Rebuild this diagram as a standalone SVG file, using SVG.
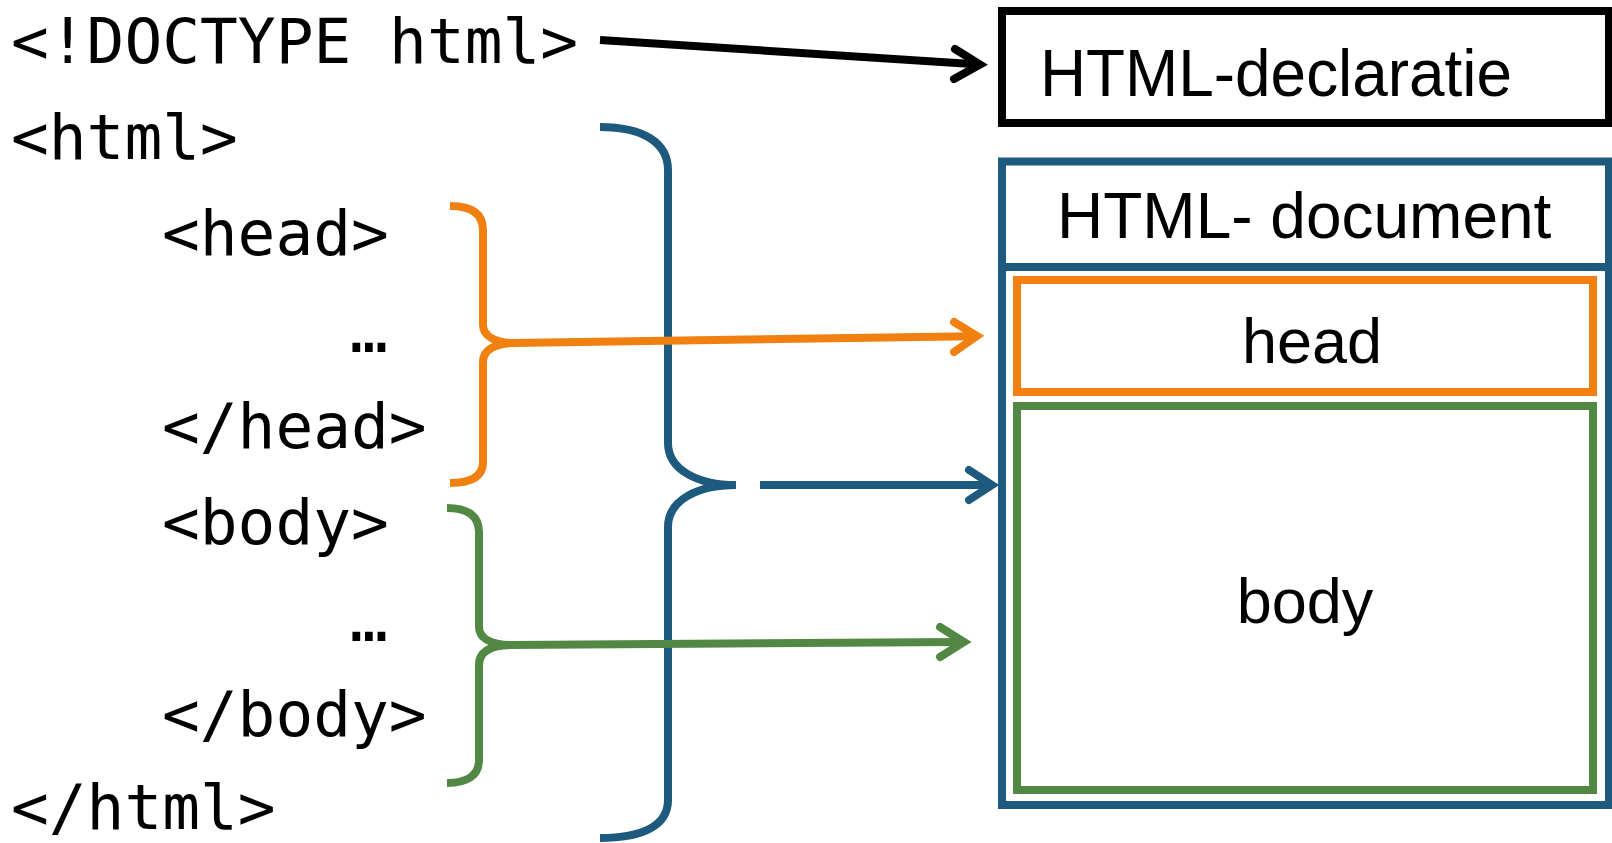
<svg xmlns="http://www.w3.org/2000/svg" width="1612" height="843" viewBox="0 0 1612 843">
<style>
.code{font-family:"DejaVu Sans Mono","Liberation Mono",monospace;font-size:62.8px;fill:#000}
.lbl{font-family:"Liberation Sans",Arial,sans-serif;font-size:63px;fill:#000}
.box{fill:#fff;stroke-width:8}
.ln{fill:none;stroke-width:8;stroke-linecap:butt}
.head{fill:none;stroke-width:8;stroke-linecap:round;stroke-linejoin:miter;stroke-miterlimit:4}
.k{stroke:#000}
.b{stroke:#1E5A7E}
.o{stroke:#F08110}
.g{stroke:#528843}
</style>
<rect width="1612" height="843" fill="#fff"/>
<g id="code">
<text class="code" x="11" y="63">&lt;!DOCTYPE html&gt;</text>
<text class="code" x="11" y="159">&lt;html&gt;</text>
<text class="code" x="162" y="255">&lt;head&gt;</text>
<text class="code" x="350" y="352">…</text>
<text class="code" x="162" y="448">&lt;/head&gt;</text>
<text class="code" x="162" y="544">&lt;body&gt;</text>
<text class="code" x="350" y="641">…</text>
<text class="code" x="162" y="736">&lt;/body&gt;</text>
<text class="code" x="11" y="829">&lt;/html&gt;</text>
</g>
<g id="declaration">
<rect class="box k" x="1002" y="11" width="607" height="112"/>
<text class="lbl" x="1040" y="96" style="font-size:66px" textLength="472" lengthAdjust="spacingAndGlyphs">HTML-declaratie</text>
</g>
<g id="document">
<rect class="box b" x="1002" y="161.5" width="607" height="643.5"/>
<line class="ln b" x1="1002" y1="267" x2="1609" y2="267"/>
<text class="lbl" x="1057" y="238" style="font-size:64px">HTML- document</text>
</g>
<g id="head">
<rect class="box o" x="1017" y="280" width="576" height="112"/>
<text class="lbl" x="1312" y="363" text-anchor="middle">head</text>
</g>
<g id="body">
<rect class="box g" x="1017" y="406" width="576" height="384"/>
<text class="lbl" x="1305" y="623" text-anchor="middle">body</text>
</g>
<g id="connectors">
<line class="ln k" x1="600" y1="40" x2="976" y2="64.3"/>
<polyline class="head k" points="955,49 980,64.5 954,79"/>
<path class="ln b" d="M600,127 C642,127 668,142 668,170 L668,443 C668,470 698,485 736,485 C698,485 668,500 668,527 L668,800 C668,826 642,838 600,838"/>
<line class="ln b" x1="760" y1="485" x2="988" y2="485"/>
<polyline class="head b" points="969,470 992,485 969,500"/>
<path class="ln o" d="M450,206 C472,206 483,214 483,230 L483,325 C483,336 495,343 515,343 C495,343 483,350 483,362 L483,462 C483,476 472,483 450,483"/>
<line class="ln o" x1="513" y1="343" x2="973" y2="336.2"/>
<polyline class="head o" points="954,322 977,336 954,352"/>
<path class="ln g" d="M447,508 C468,508 479,516 479,532 L479,627 C479,638 490,645 513,645 C490,645 479,652 479,665 L479,760 C479,775 468,783 447,783"/>
<line class="ln g" x1="511" y1="645" x2="960" y2="642"/>
<polyline class="head g" points="940,627 964,642 940,657"/>
</g>
</svg>
